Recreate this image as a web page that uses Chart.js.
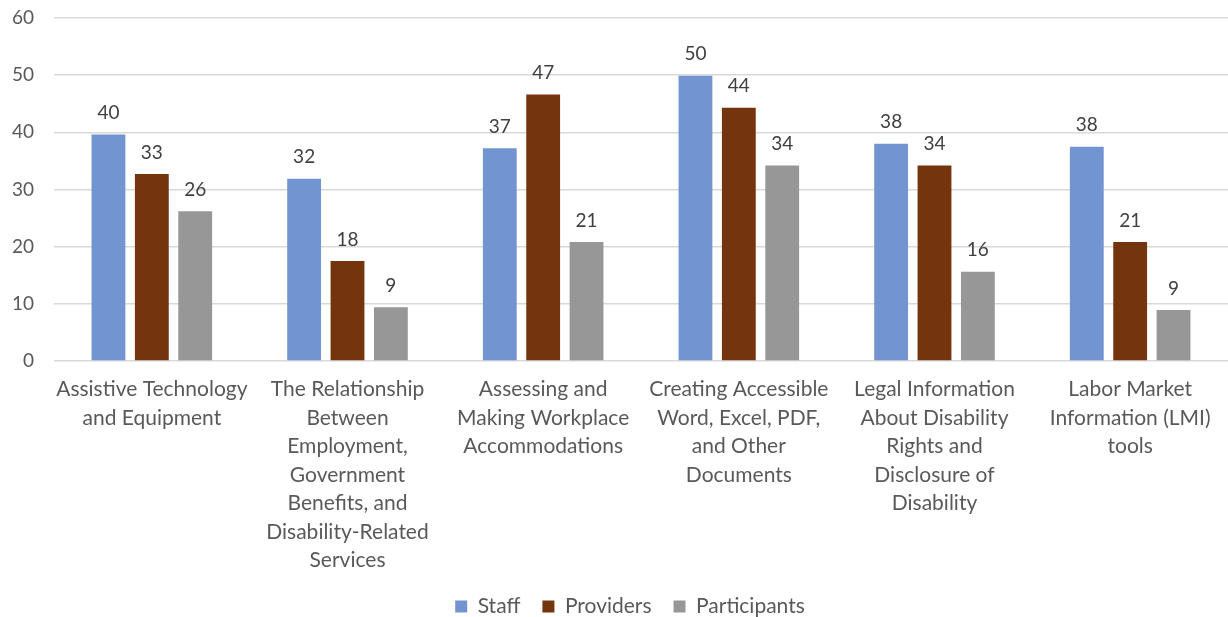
<!DOCTYPE html>
<html>
<head>
<meta charset="utf-8">
<script src="https://cdn.jsdelivr.net/npm/chart.js@4.4.1/dist/chart.umd.min.js"></script>
<style>
  html, body { margin: 0; padding: 0; background: #ffffff; }
  #wrap { width: 1228px; height: 617px; position: relative; }
</style>
</head>
<body>
<div id="wrap"><canvas id="chart" width="1228" height="617"></canvas></div>
<script>
// Training topics (wrapped into lines for the category axis)
const categories = [
  ["Assistive Technology", "and Equipment"],
  ["The Relationship", "Between", "Employment,", "Government", "Benefits, and", "Disability-Related", "Services"],
  ["Assessing and", "Making Workplace", "Accommodations"],
  ["Creating Accessible", "Word, Excel, PDF,", "and Other", "Documents"],
  ["Legal Information", "About Disability", "Rights and", "Disclosure of", "Disability"],
  ["Labor Market", "Information (LMI)", "tools"]
];

const staff        = [39.6, 31.9, 37.2, 49.9, 38.0, 37.5];
const providers    = [32.7, 17.5, 46.6, 44.3, 34.2, 20.8];
const participants = [26.2, 9.4, 20.8, 34.2, 15.6, 8.9];

const yTicks = [0, 10, 20, 30, 40, 50, 60];

const FONT = "Lato, 'Open Sans', sans-serif";
const TEXT = "#595959";

// Value labels above each bar, rounded to whole numbers
const barValueLabels = {
  id: "barValueLabels",
  afterDatasetsDraw(chart) {
    const ctx = chart.ctx;
    ctx.save();
    ctx.font = "19px " + FONT;
    ctx.fillStyle = "#404040";
    ctx.textAlign = "center";
    ctx.textBaseline = "bottom";
    chart.data.datasets.forEach((ds, i) => {
      chart.getDatasetMeta(i).data.forEach((bar, j) => {
        ctx.fillText(Math.round(ds.data[j]).toString(), bar.x, bar.y - 12);
      });
    });
    ctx.restore();
  }
};

// Nudge the legend a little right so it sits under the middle of the plot
const legendShift = {
  id: "legendShift",
  afterLayout(chart) {
    if (chart.legend) {
      chart.legend.left += 16;
      chart.legend.right += 16;
    }
  }
};

new Chart(document.getElementById("chart"), {
  type: "bar",
  data: {
    labels: categories,
    datasets: [
      { label: "Staff", data: staff, backgroundColor: "#7294D1" },
      { label: "Providers", data: providers, backgroundColor: "#74340E" },
      { label: "Participants", data: participants, backgroundColor: "#979797" }
    ]
  },
  options: {
    responsive: false,
    animation: false,
    layout: { padding: { top: 18, right: 0, left: 0, bottom: -10 } },
    datasets: {
      bar: { categoryPercentage: 0.665, barPercentage: 0.78 }
    },
    scales: {
      x: {
        afterFit(scale) { scale.paddingLeft = 0; scale.paddingRight = 0; scale.height = 213; },
        grid: { display: false, drawTicks: false },
        border: { display: false },
        ticks: {
          color: TEXT,
          font: { family: FONT, size: 21, lineHeight: 1.36 },
          maxRotation: 0,
          autoSkip: false,
          padding: 14
        }
      },
      y: {
        min: 0,
        max: 60,
        afterBuildTicks(scale) { scale.ticks = yTicks.map(v => ({ value: v })); },
        afterFit(scale) { scale.width = 54; scale.paddingTop = 0; scale.paddingBottom = 0; },
        grid: { color: "#D9D9D9", lineWidth: 1.5, drawTicks: false },
        border: { display: false },
        ticks: {
          color: TEXT,
          font: { family: FONT, size: 19 },
          padding: 20
        }
      }
    },
    plugins: {
      legend: {
        position: "bottom",
        labels: {
          color: TEXT,
          font: { family: FONT, size: 21 },
          boxWidth: 12,
          boxHeight: 12,
          padding: 22
        }
      },
      tooltip: { enabled: false }
    }
  },
  plugins: [barValueLabels, legendShift]
});
</script>
</body>
</html>
